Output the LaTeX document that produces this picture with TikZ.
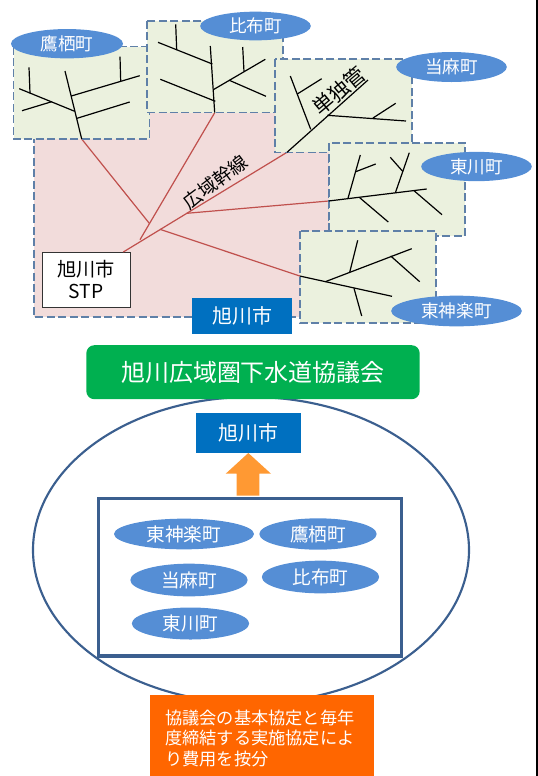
\documentclass[tikz,border=0pt]{standalone}
\usepackage{fontspec}
\setmainfont{Noto Sans CJK JP}
\usetikzlibrary{shapes.geometric}
\definecolor{pinkarea}{HTML}{F2DCDB}
\definecolor{greenarea}{HTML}{EBF1DE}
\definecolor{dashblue}{HTML}{5F80A8}
\definecolor{townblue}{HTML}{558ED5}
\definecolor{cityblue}{HTML}{0070C0}
\definecolor{councilgreen}{HTML}{00B050}
\definecolor{framenavy}{HTML}{3B5F8F}
\definecolor{trunkred}{HTML}{C0504D}
\definecolor{arroworange}{HTML}{FF9933}
\definecolor{noteorange}{HTML}{FF6600}
\tikzset{
    px/.style={x=0.75pt,y=-0.75pt},
    townarea/.style={fill=greenarea,draw=dashblue,line width=1pt,dash pattern=on 6pt off 2.6pt},
    pipe/.style={black,line width=0.9pt},
    trunk/.style={trunkred,line width=0.9pt},
    town/.style={ellipse,fill=townblue,text=white,inner sep=0pt,font=\fontsize{13.2}{15}\selectfont},
    towntwo/.style={town,font=\fontsize{14}{16}\selectfont},
    citybox/.style={fill=cityblue,text=white,inner sep=0pt,font=\fontsize{15}{17}\selectfont},
    pipelabel/.style={inner sep=0pt,font=\fontsize{14}{16}\selectfont}
}

\begin{document}
\begin{tikzpicture}[px]
            \useasboundingbox (0,0) rectangle (538,776);

            \filldraw[fill=pinkarea,draw=dashblue,line width=1pt,dash pattern=on 6pt off 2.6pt] (34,112) rectangle (329,317);

            \node[draw=black!80,fill=white,line width=0.8pt,minimum width=66pt,minimum height=41.5pt,inner sep=0pt,align=center,font=\fontsize{14.4}{16.8}\selectfont] (stp) at (86.3,279.7) {旭川市\\STP};

            \coordinate (stpout) at (123.3,252);
            \coordinate (takasuend) at (81.7,139);
            \coordinate (pippuend) at (214.7,112.7);
            \coordinate (tomaend) at (287,152.3);
            \coordinate (higashikawaend) at (328.7,201);
            \coordinate (kamiend) at (299.7,276);
            \coordinate (takasujoin) at (149.3,223.3);
            \coordinate (pippujoin) at (140,239.7);
            \coordinate (kawajoin) at (186.7,213.3);
            \coordinate (kamijoin) at (160,229.3);

            \draw[trunk] (stpout) -- (tomaend);
            \draw[trunk] (takasuend) -- (takasujoin);
            \draw[trunk] (pippuend) -- (pippujoin);
            \draw[trunk] (kawajoin) -- (higashikawaend);
            \draw[trunk] (kamijoin) -- (kamiend);

            \filldraw[townarea] (13.5,46.5) rectangle (149.5,139);
            \filldraw[townarea] (147,21) rectangle (283,112.7);
            \filldraw[townarea] (275,59) rectangle (412,152.3);
            \filldraw[townarea] (329,143) rectangle (465,236);
            \filldraw[townarea] (300,231) rectangle (436,323);

            \draw[pipe] (65,71) -- (takasuend);
            \draw[pipe] (71.3,96) -- (139.7,75.7);
            \draw[pipe] (120,56.7) -- (120.7,81);
            \draw[pipe] (77,118.3) -- (129.7,102);
            \draw[pipe] (19.3,88.7) -- (74.7,111.3);
            \draw[pipe] (29,67.3) -- (30,93.3);
            \draw[pipe] (22,110.7) -- (51.7,101.7);

            \draw[pipe] (210.3,46) -- (pippuend);
            \draw[pipe] (158,42.3) -- (212.3,64);
            \draw[pipe] (175.7,24.3) -- (176.7,50);
            \draw[pipe] (160.3,79.3) -- (215.3,101.3);
            \draw[pipe] (213.3,89.7) -- (265.3,59.3);
            \draw[pipe] (242.7,47) -- (244,71.7);
            \draw[pipe] (229.3,80.3) -- (266,96.3);

            \draw[pipe] (368,80) -- (tomaend);
            \draw[pipe] (290.3,76) -- (310.7,129.3);
            \draw[pipe] (297.3,94) -- (321.7,78.7);
            \draw[pipe] (327.3,115.3) -- (406,121);
            \draw[pipe] (373,118) -- (395.7,103.3);

            \draw[pipe] (higashikawaend) -- (426.7,189);
            \draw[pipe] (348,198.3) -- (360.3,155);
            \draw[pipe] (355.7,171.7) -- (375.7,164);
            \draw[pipe] (395.3,193) -- (409.3,152.7);
            \draw[pipe] (390.3,157.3) -- (403,171.7);
            \draw[pipe] (359.7,197.7) -- (388.3,222);
            \draw[pipe] (414,190.7) -- (442,214.7);

            \draw[pipe] (kamiend) -- (392,296.3);
            \draw[pipe] (325.3,281.7) -- (411.7,248.7);
            \draw[pipe] (349.7,272.3) -- (357.7,240.3);
            \draw[pipe] (390.7,256) -- (419.7,281.7);
            \draw[pipe] (354,288.3) -- (361.7,316);

            \node[pipelabel,rotate=37] (trunklabel) at (215,182) {広域幹線};
            \node[pipelabel,rotate=40,font=\fontsize{15.5}{17}\selectfont] (singlelabel) at (339,91) {単独管};

            \node[town,minimum width=84pt,minimum height=22pt] (takasu) at (67,43.7) {鷹栖町};
            \node[town,minimum width=83pt,minimum height=21.5pt] (pippu) at (255.5,26) {比布町};
            \node[town,minimum width=83pt,minimum height=22.5pt] (toma) at (451.5,67) {当麻町};
            \node[town,minimum width=83pt,minimum height=22pt] (higashikawa) at (476.5,166.5) {東川町};
            \node[town,minimum width=98pt,minimum height=23pt] (kamikawa) at (456.5,311) {東神楽町};

            \node[citybox,minimum width=75pt,minimum height=27pt] (cityone) at (242,316) {旭川市};

            \draw[framenavy,line width=1.6pt] (251,550) ellipse[x radius=218,y radius=153];

            \node[fill=councilgreen,text=white,rounded corners=6pt,minimum width=250pt,minimum height=40.5pt,inner sep=0pt,font=\fontsize{18}{20}\selectfont] (council) at (253,372.2) {旭川広域圏下水道協議会};

            \node[citybox,minimum width=78.8pt,minimum height=30pt] (citytwo) at (248.5,433) {旭川市};

            \fill[arroworange] (248.3,453) -- (271,473.7) -- (259.3,473.7) -- (259.3,495.7) -- (236.7,495.7) -- (236.7,473.7) -- (225.7,473.7) -- cycle;

            \draw[framenavy,line width=2.7pt] (98.5,498.3) rectangle (401.3,656);

            \node[towntwo,minimum width=105pt,minimum height=23pt] (kamikawatwo) at (184,534) {東神楽町};
            \node[towntwo,minimum width=88pt,minimum height=23.5pt] (takasutwo) at (318,534) {鷹栖町};
            \node[towntwo,minimum width=88pt,minimum height=24.5pt] (tomatwo) at (189,580) {当麻町};
            \node[towntwo,minimum width=88pt,minimum height=24.5pt] (pipputwo) at (320.5,577) {比布町};
            \node[towntwo,minimum width=88pt,minimum height=24pt] (higashikawatwo) at (190.5,623.5) {東川町};

            \fill[noteorange] (150,695) rectangle (374,776);
            \node[anchor=north west,text=white,inner sep=0pt,align=left,font=\fontsize{12.9}{15.4}\selectfont] (note) at (165,709.5) {協議会の基本協定と毎年\\度締結する実施協定によ\\り費用を按分};

            \draw[black,line width=1.5pt] (537,0) -- (537,776);
        \end{tikzpicture}
\end{document}
